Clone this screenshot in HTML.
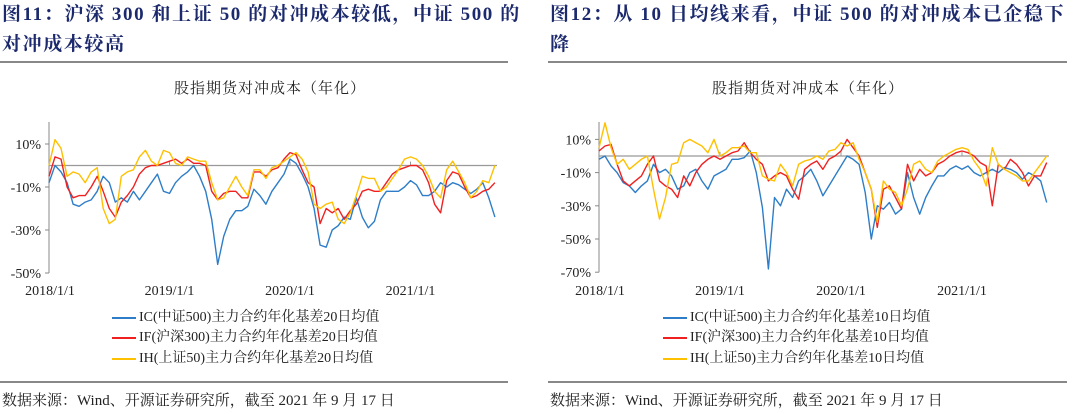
<!DOCTYPE html>
<html><head><meta charset="utf-8"><style>
body{margin:0;width:1080px;height:414px;background:#fff;overflow:hidden;font-family:"Liberation Serif","Noto Serif CJK SC",serif;position:relative}
.t{position:absolute;color:#1c2a6d;font-weight:bold;font-size:19px;letter-spacing:1.6px;line-height:30px;font-family:"Liberation Serif","Noto Serif CJK SC",serif}
.hr{position:absolute;height:1.5px;background:#888}
.ct{position:absolute;font-size:15px;letter-spacing:1px;color:#222;text-align:center;width:520px}
.lg{position:absolute;font-size:14px;color:#222;white-space:nowrap}
.lg i{display:inline-block;width:24px;height:2px;vertical-align:middle;margin-right:3px}
.ft{position:absolute;font-size:15px;color:#222;white-space:nowrap}
svg{position:absolute;left:0;top:0}
</style></head><body>
<div class="t" style="left:2px;top:0;width:535px">图11：沪深 300 和上证 50 的对冲成本较低，中证 500 的对冲成本较高</div>
<div class="t" style="left:550px;top:0;width:525px">图12：从 10 日均线来看，中证 500 的对冲成本已企稳下降</div>
<div class="hr" style="left:0;top:61px;width:508px"></div>
<div class="hr" style="left:548px;top:61px;width:519px"></div>
<div class="ct" style="left:10px;top:77px">股指期货对冲成本（年化）</div>
<div class="ct" style="left:548px;top:77px">股指期货对冲成本（年化）</div>
<div class="lg" style="left:112px;top:306px"><i style="background:#2e7dc8"></i>IC(中证500)主力合约年化基差20日均值</div>
<div class="lg" style="left:112px;top:326px"><i style="background:#f02020"></i>IF(沪深300)主力合约年化基差20日均值</div>
<div class="lg" style="left:112px;top:347px"><i style="background:#ffc000"></i>IH(上证50)主力合约年化基差20日均值</div>
<div class="lg" style="left:663px;top:306px"><i style="background:#2e7dc8"></i>IC(中证500)主力合约年化基差10日均值</div>
<div class="lg" style="left:663px;top:326px"><i style="background:#f02020"></i>IF(沪深300)主力合约年化基差10日均值</div>
<div class="lg" style="left:663px;top:347px"><i style="background:#ffc000"></i>IH(上证50)主力合约年化基差10日均值</div>
<div class="hr" style="left:0;top:381px;width:508px"></div>
<div class="hr" style="left:548px;top:381px;width:519px"></div>
<div class="ft" style="left:2px;top:389px">数据来源：Wind、开源证券研究所，截至 2021 年 9 月 17 日</div>
<div class="ft" style="left:550px;top:389px">数据来源：Wind、开源证券研究所，截至 2021 年 9 月 17 日</div>
<svg id="s" width="1080" height="414"></svg>
<script>
const xTickLabels=["2018/1/1","2019/1/1","2020/1/1","2021/1/1"];
const leftYTicks=[10,-10,-30,-50];
const rightYTicks=[10,-10,-30,-50,-70];
const leftIC=[-8,0,-3,-8,-18,-19,-17,-16,-12,-5,-8,-17,-15,-17,-12,-16,-12,-8,-4,-12,-13,-8,-5,-3,0,-5,-12,-25,-46,-33,-25,-21,-21,-19,-11,-14,-18,-12,-8,-4,3,1,-4,-10,-20,-37,-38,-30,-28,-24,-25,-15,-24,-29,-26,-16,-12,-12,-12,-10,-7,-9,-14,-14,-12,-8,-10,-8,-9,-11,-13,-11,-8,-15,-24];
const leftIF=[-5,4,3,-10,-15,-14,-14,-10,-5,-12,-20,-24,-17,-14,-10,-4,-1,0,0,1,2,3,1,3,1,1,0,-12,-16,-13,-12,-12,-15,-15,-3,-3,-5,-2,-1,3,6,5,-2,-8,-10,-27,-20,-22,-20,-25,-21,-18,-12,-11,-12,-12,-8,-4,-2,-1,0,0,-2,-8,-18,-22,-7,-3,-4,-10,-15,-14,-12,-11,-8];
const leftIH=[0,12,8,-5,-3,-4,-8,-3,-1,-20,-27,-25,-5,-3,-2,4,7,2,0,7,6,1,0,4,3,2,2,-8,-16,-15,-10,-5,-10,-14,-2,-2,-6,-1,0,2,4,6,3,-3,-18,-20,-18,-17,-25,-27,-22,-14,-5,-6,-6,-12,-10,-6,-2,3,4,3,0,-5,-12,-15,-2,2,-3,-8,-15,-12,-7,-8,0];
const rightIC=[-2,0,-6,-10,-16,-18,-22,-18,-15,-5,-10,-8,-12,-20,-18,-10,-8,-15,-20,-12,-10,-8,-2,-2,-1,3,-10,-31,-68,-25,-30,-20,-25,-15,-12,-8,-15,-24,-18,-12,-6,0,-2,-5,-22,-50,-30,-32,-28,-35,-32,-10,-25,-35,-25,-18,-12,-12,-8,-6,-8,-6,-10,-12,-10,-8,-10,-7,-8,-10,-14,-10,-12,-15,-28];
const rightIF=[3,6,7,-5,-15,-18,-15,-12,-5,0,-15,-18,-20,-25,-12,-18,-10,-5,-2,0,-2,0,2,3,8,2,-2,-5,-15,-12,-10,-12,-20,-26,-8,-5,-3,-8,-2,0,3,10,5,0,-10,-20,-43,-20,-18,-25,-32,-5,-15,-8,-12,-10,-5,-3,0,2,3,2,0,-4,-6,-30,-5,-8,-2,-5,-10,-18,-12,-12,-4];
const rightIH=[5,20,5,-5,-2,-8,-5,-2,0,-20,-38,-25,-5,-4,8,10,8,6,2,10,0,2,5,5,6,2,2,-12,-14,-15,-5,-10,-18,-5,-3,-2,0,-2,3,4,8,6,8,-2,-10,-20,-40,-15,-20,-22,-30,-20,-5,-3,-8,-10,-3,0,2,4,5,4,-3,-8,-18,5,-5,-8,-10,-12,-15,-15,-10,-5,0];
const stepYears=0.05;
const NS="http://www.w3.org/2000/svg";
const svg=document.getElementById('s');
function mk(tag,attrs){const e=document.createElementNS(NS,tag);for(const k in attrs)e.setAttribute(k,attrs[k]);svg.appendChild(e);return e;}
function chart(cfg){
  const xs=t=>cfg.x0+t*cfg.pxYear;
  const ys=v=>cfg.y0-v*cfg.pxPct;
  const ax=mk('line',{x1:cfg.x0,y1:cfg.yTop,x2:cfg.x0,y2:ys(cfg.yMin),stroke:'#888','stroke-width':1});
  
  
  const z=mk('line',{x1:cfg.x0,y1:ys(0),x2:cfg.xEnd,y2:ys(0),stroke:'#999','stroke-width':1.2});
  
  
  cfg.yt.forEach(v=>{
    const tk=mk('line',{x1:cfg.x0-4,y1:ys(v),x2:cfg.x0,y2:ys(v),stroke:'#888'});
    
    
    const t=mk('text',{x:cfg.x0-8,y:ys(v)+5,'text-anchor':'end','font-size':14,fill:'#222','font-family':'Liberation Serif, serif'});
    t.textContent=v+'%';
    
    
  });
  xTickLabels.forEach((l,i)=>{
    const t=mk('text',{x:xs(i)+(i==0?1:0),y:295,'text-anchor':'middle','font-size':14,fill:'#222','font-family':'Liberation Serif, serif'});
    t.textContent=l;
    
    
    if(i>0){const tk=mk('line',{x1:xs(i),y1:ys(0),x2:xs(i),y2:ys(0)-4,stroke:'#999'});
    
    }
  });
  cfg.series.forEach(s=>{
    const pts=s.d.map((v,i)=>xs(i*stepYears).toFixed(1)+','+ys(v).toFixed(1)).join(' ');
    const pl=mk('polyline',{points:pts,fill:'none',stroke:s.c,'stroke-width':1.4,'stroke-linejoin':'round'});
    
    
  });
}
chart({p:'left',x0:49,pxYear:120.5,y0:165.5,pxPct:2.15,yTop:122,yMin:-50,xEnd:497,yt:leftYTicks,
 series:[{n:'ic',c:'#2e7dc8',d:leftIC},{n:'if',c:'#f02020',d:leftIF},{n:'ih',c:'#ffc000',d:leftIH}]});
chart({p:'right',x0:599,pxYear:121,y0:156,pxPct:1.66,yTop:122,yMin:-70,xEnd:1049,yt:rightYTicks,
 series:[{n:'ic',c:'#2e7dc8',d:rightIC},{n:'if',c:'#f02020',d:rightIF},{n:'ih',c:'#ffc000',d:rightIH}]});
</script>
</body></html>
